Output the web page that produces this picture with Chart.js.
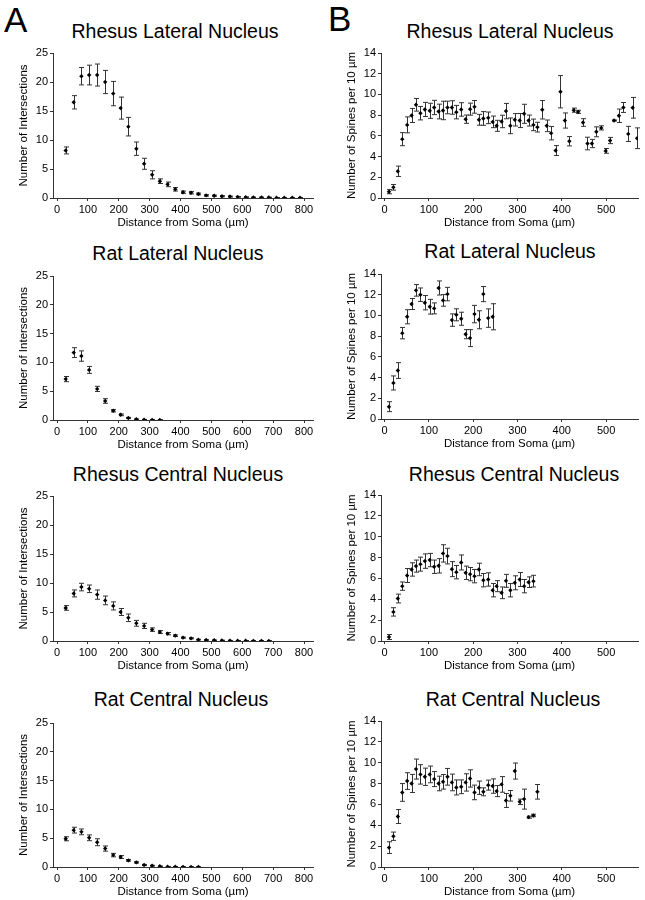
<!DOCTYPE html>
<html>
<head>
<meta charset="utf-8">
<script src="https://cdn.jsdelivr.net/npm/chart.js@4.4.1/dist/chart.umd.min.js"></script>
<style>
  body { margin: 0; background: #fff; width: 645px; height: 900px; position: relative; overflow: hidden;
         font-family: "Liberation Sans", Arial, sans-serif; }
  canvas { position: absolute; }
  .ttl { position: absolute; font-size: 19.5px; line-height: 1; white-space: nowrap; color: #000;
         transform: translate(-50%, -50%); }
  .letter { position: absolute; font-size: 35px; line-height: 1; color: #000; }
</style>
</head>
<body>
<div class="letter" style="left:4px;top:2px">A</div>
<div class="letter" style="left:328px;top:1px">B</div>

<div class="ttl" style="left:175px;top:32px">Rhesus Lateral Nucleus</div>
<div class="ttl" style="left:178px;top:254px">Rat Lateral Nucleus</div>
<div class="ttl" style="left:178px;top:475px">Rhesus Central Nucleus</div>
<div class="ttl" style="left:181px;top:700px">Rat Central Nucleus</div>
<div class="ttl" style="left:510px;top:32px">Rhesus Lateral Nucleus</div>
<div class="ttl" style="left:510px;top:252px">Rat Lateral Nucleus</div>
<div class="ttl" style="left:514px;top:475px">Rhesus Central Nucleus</div>
<div class="ttl" style="left:513px;top:700px">Rat Central Nucleus</div>

<canvas id="a1"></canvas>
<canvas id="a2"></canvas>
<canvas id="a3"></canvas>
<canvas id="a4"></canvas>
<canvas id="b1"></canvas>
<canvas id="b2"></canvas>
<canvas id="b3"></canvas>
<canvas id="b4"></canvas>

<script>
// Sholl radii (um) for column A, spine bins (um) for column B
const shollRadius = [28, 54, 79, 104, 130, 156, 182, 206, 231, 257, 282, 308, 333, 358, 383, 408,
  434, 458, 483, 509, 534, 560, 585, 611, 636, 662, 686, 711, 736, 762, 787];
const spineBin = [10, 20, 30, 40, 51, 61, 71, 81, 91, 102, 112, 122, 132, 142, 152, 162, 173, 183,
  193, 203, 213, 223, 234, 244, 253, 264, 274, 284, 294, 305, 315, 325, 336, 345, 356, 366, 376, 386,
  397, 407, 417, 427, 437, 448, 458, 468, 478, 489, 499, 509, 518, 529, 539, 550, 560, 570];

const xTicksA = [0, 100, 200, 300, 400, 500, 600, 700, 800];
const xTicksB = [0, 100, 200, 300, 400, 500];
const yTicksA = [0, 5, 10, 15, 20, 25];
const yTicksB = [0, 2, 4, 6, 8, 10, 12, 14];

// Column A: number of intersections
const rhesusLatInt = [8.2, 16.5, 21.0, 21.2, 21.2, 20.0, 18.0, 15.5, 12.3, 8.5, 5.9, 4.0, 2.9, 2.35,
  1.5, 1.0, 0.9, 0.7, 0.45, 0.4, 0.3, 0.25, 0.2, 0.15, 0.1, 0.1, 0.1, 0.05, 0.05, 0.05, 0.05];
const rhesusLatIntErr = [0.6, 1.15, 1.5, 1.7, 1.9, 2.0, 2.1, 1.9, 1.6, 1.15, 0.95, 0.7, 0.4, 0.4,
  0.3, 0.2, 0.2, 0.15, 0.12, 0.1, 0.1, 0.08, 0.06, 0.05, 0.05, 0.05, 0.04, 0.03, 0.03, 0.03, 0.03];

const ratLatInt = [7.1, 11.7, 11.1, 8.7, 5.4, 3.3, 1.6, 0.9, 0.35, 0.12, 0.06, 0.03, 0.02];
const ratLatIntErr = [0.45, 0.85, 0.9, 0.6, 0.45, 0.4, 0.2, 0.15, 0.1, 0.06, 0.04, 0.03, 0.02];

const rhesusCenInt = [5.7, 8.2, 9.3, 9.0, 8.0, 7.0, 6.05, 5.0, 4.0, 3.05, 2.6, 1.96, 1.55, 1.27,
  0.92, 0.58, 0.46, 0.23, 0.17, 0.12, 0.1, 0.07, 0.05, 0.05, 0.03, 0.03, 0.02];
const rhesusCenIntErr = [0.4, 0.6, 0.65, 0.65, 0.8, 0.75, 0.7, 0.6, 0.65, 0.5, 0.45, 0.3, 0.25, 0.2,
  0.15, 0.1, 0.1, 0.06, 0.05, 0.05, 0.04, 0.03, 0.03, 0.03, 0.02, 0.02, 0.02];

const ratCenInt = [4.9, 6.4, 6.1, 5.07, 4.3, 3.2, 2.07, 1.73, 1.15, 0.8, 0.35, 0.23, 0.12, 0.06,
  0.05, 0.03, 0.02, 0.02];
const ratCenIntErr = [0.35, 0.5, 0.5, 0.5, 0.6, 0.45, 0.3, 0.25, 0.15, 0.12, 0.1, 0.07, 0.05, 0.04,
  0.03, 0.02, 0.02, 0.02];

// Column B: spines per 10 um
const rhesusLatSp = [0.61, 1.03, 2.58, 5.68, 7.06, 7.97, 9.0, 8.19, 8.55, 8.42, 8.74, 8.35, 8.45,
  8.74, 8.74, 8.29, 8.55, 7.61, 8.58, 8.8, 7.55, 7.68, 7.74, 7.35, 6.97, 7.39, 8.39, 6.97, 7.55, 7.48,
  8.13, 7.48, 7.06, 6.84, 8.52, 6.97, 6.26, 4.58, 10.26, 7.48, 5.48, 8.48, 8.32, 7.29, 5.26, 5.26,
  6.39, 6.77, 4.55, 5.55, 7.48, 7.94, 8.74, 6.19, 8.71, 5.77];
const rhesusLatSpErr = [0.2, 0.27, 0.5, 0.63, 0.77, 0.68, 0.61, 0.65, 0.68, 0.73, 0.69, 0.71, 0.89,
  0.61, 0.65, 0.65, 0.65, 0.4, 0.58, 0.61, 0.52, 0.66, 0.56, 0.56, 0.53, 0.6, 0.74, 0.76, 0.6, 0.68,
  0.92, 0.53, 0.56, 0.47, 0.89, 0.56, 0.65, 0.48, 1.56, 0.73, 0.45, 0.2, 0.15, 0.37, 0.61, 0.4,
  0.48, 0.2, 0.23, 0.3, 0.05, 0.65, 0.48, 0.73, 1.0, 1.0];

const ratLatSp = [1.19, 3.48, 4.68, 8.29, 9.87, 11.1, 12.42, 12.0, 11.23, 10.84, 10.68, 12.65,
  11.45, 12.06, 9.55, 10.06, 9.68, 8.19, 7.81, 10.13, 9.58, 12.06, 9.74, 9.87];
const ratLatSpErr = [0.48, 0.68, 0.76, 0.55, 0.68, 0.53, 0.56, 0.65, 0.69, 0.71, 0.53, 0.68, 0.56,
  0.65, 0.6, 0.58, 0.63, 0.44, 0.82, 0.84, 0.87, 0.73, 0.89, 1.26];

const rhesusCenSp = [0.38, 2.79, 4.07, 5.26, 6.28, 6.86, 7.18, 7.37, 7.66, 7.76, 7.12, 7.21, 8.4,
  8.14, 6.89, 6.6, 7.53, 6.54, 6.41, 6.22, 6.86, 5.83, 5.9, 4.87, 5.26, 4.62, 5.77, 4.87, 5.58, 5.9,
  5.26, 5.64, 5.74];
const rhesusCenSpErr = [0.24, 0.4, 0.42, 0.4, 0.67, 0.64, 0.58, 0.67, 0.69, 0.64, 0.64, 0.69, 0.83,
  0.75, 0.72, 0.64, 0.72, 0.64, 0.64, 0.64, 0.6, 0.64, 0.64, 0.64, 0.53, 0.56, 0.62, 0.64, 0.67, 0.67,
  0.64, 0.51, 0.56];

const ratCenSp = [1.86, 2.95, 4.84, 7.15, 8.24, 8.01, 9.39, 8.88, 8.65, 8.88, 8.43, 8.01, 8.17, 8.65,
  8.11, 7.63, 7.69, 8.11, 8.49, 7.15, 7.6, 7.21, 7.85, 7.76, 7.28, 7.92, 6.38, 6.83, 9.2, 6.25, 6.51,
  4.78, 4.94, 7.21];
const ratCenSpErr = [0.56, 0.4, 0.67, 0.85, 0.8, 0.87, 0.96, 0.93, 0.83, 0.8, 0.72, 0.7, 0.7, 0.8,
  0.8, 0.72, 0.66, 0.83, 0.83, 0.7, 0.64, 0.38, 0.48, 0.69, 0.53, 0.75, 0.67, 0.51, 0.77, 0.26, 0.96,
  0.1, 0.12, 0.7];

Chart.defaults.font.family = '"Liberation Sans", Arial, sans-serif';
Chart.defaults.color = '#000';

// draws the mean +/- error whiskers
const errorBars = {
  id: 'errorBars',
  beforeDatasetsDraw(chart) {
    const { ctx, scales: { x, y } } = chart;
    ctx.save();
    ctx.strokeStyle = '#333';
    ctx.lineWidth = 1;
    chart.data.datasets[0].data.forEach(p => {
      const px = Math.round(x.getPixelForValue(p.x)) + 0.5;
      const t = y.getPixelForValue(p.y + p.err);
      const b = y.getPixelForValue(Math.max(p.y - p.err, 0));
      ctx.beginPath();
      ctx.moveTo(px, t); ctx.lineTo(px, b);
      ctx.moveTo(px - 2.5, t); ctx.lineTo(px + 2.5, t);
      ctx.moveTo(px - 2.5, b); ctx.lineTo(px + 2.5, b);
      ctx.stroke();
    });
    ctx.restore();
  }
};

function graphPanel(id, box, area, xs, ys, errs, kind) {
  const canvas = document.getElementById(id);
  canvas.width = box.w; canvas.height = box.h;
  canvas.style.left = box.x + 'px'; canvas.style.top = box.y + 'px';
  const yW = 36, xH = 32;
  const isA = kind === 'A';

  new Chart(canvas, {
    type: 'scatter',
    data: {
      datasets: [{
        data: ys.map((v, i) => ({ x: xs[i], y: v, err: errs[i] })),
        pointStyle: 'rectRot',
        pointRadius: 2.2,
        backgroundColor: '#000',
        borderColor: '#000',
        borderWidth: 0
      }]
    },
    options: {
      responsive: false,
      animation: false,
      layout: {
        padding: {
          left: area.l - box.x - yW,
          right: box.x + box.w - area.r,
          top: area.t - box.y,
          bottom: box.y + box.h - area.b - xH
        }
      },
      plugins: { legend: { display: false }, tooltip: { enabled: false } },
      scales: {
        x: {
          type: 'linear',
          min: isA ? -13 : -8,
          max: isA ? 829 : 572,
          afterBuildTicks: s => { s.ticks = (isA ? xTicksA : xTicksB).map(v => ({ value: v })); },
          afterFit: s => { s.height = xH; },
          grid: { display: true, drawOnChartArea: false, drawTicks: true, tickLength: 3, color: '#333' },
          border: { display: true, color: '#333' },
          ticks: { padding: 2, font: { size: 11 }, maxRotation: 0, autoSkip: false },
          title: { display: true, text: 'Distance from Soma (µm)', font: { size: 11.5 }, padding: 0 }
        },
        y: {
          min: 0,
          max: isA ? 25 : 14,
          afterBuildTicks: s => { s.ticks = (isA ? yTicksA : yTicksB).map(v => ({ value: v })); },
          afterFit: s => { s.width = yW; },
          grid: { display: true, drawOnChartArea: false, drawTicks: true, tickLength: 3, color: '#333' },
          border: { display: true, color: '#333' },
          ticks: { padding: 2, font: { size: 11 } },
          title: {
            display: true,
            text: isA ? 'Number of Intersections' : 'Number of Spines per 10 µm',
            font: { size: 11.5 }, padding: 0
          }
        }
      }
    },
    plugins: [errorBars]
  });
}

const colA = { x: 0, w: 320 }, colB = { x: 320, w: 325 };
const rowTop = [0, 225, 450, 675];
const boxAt = (col, r) => ({ x: col.x, w: col.w, y: rowTop[r], h: 232 });

graphPanel('a1', boxAt(colA, 0), { l: 53, r: 313, t: 53, b: 198 }, shollRadius, rhesusLatInt, rhesusLatIntErr, 'A');
graphPanel('a2', boxAt(colA, 1), { l: 53, r: 313, t: 276, b: 420 }, shollRadius, ratLatInt, ratLatIntErr, 'A');
graphPanel('a3', boxAt(colA, 2), { l: 53, r: 313, t: 496, b: 641 }, shollRadius, rhesusCenInt, rhesusCenIntErr, 'A');
graphPanel('a4', boxAt(colA, 3), { l: 53, r: 313, t: 723, b: 867 }, shollRadius, ratCenInt, ratCenIntErr, 'A');

graphPanel('b1', boxAt(colB, 0), { l: 381, r: 638, t: 53, b: 198 }, spineBin, rhesusLatSp, rhesusLatSpErr, 'B');
graphPanel('b2', boxAt(colB, 1), { l: 381, r: 638, t: 274, b: 419 }, spineBin, ratLatSp, ratLatSpErr, 'B');
graphPanel('b3', boxAt(colB, 2), { l: 381, r: 638, t: 495, b: 641 }, spineBin, rhesusCenSp, rhesusCenSpErr, 'B');
graphPanel('b4', boxAt(colB, 3), { l: 381, r: 638, t: 721, b: 867 }, spineBin, ratCenSp, ratCenSpErr, 'B');
</script>
</body>
</html>
